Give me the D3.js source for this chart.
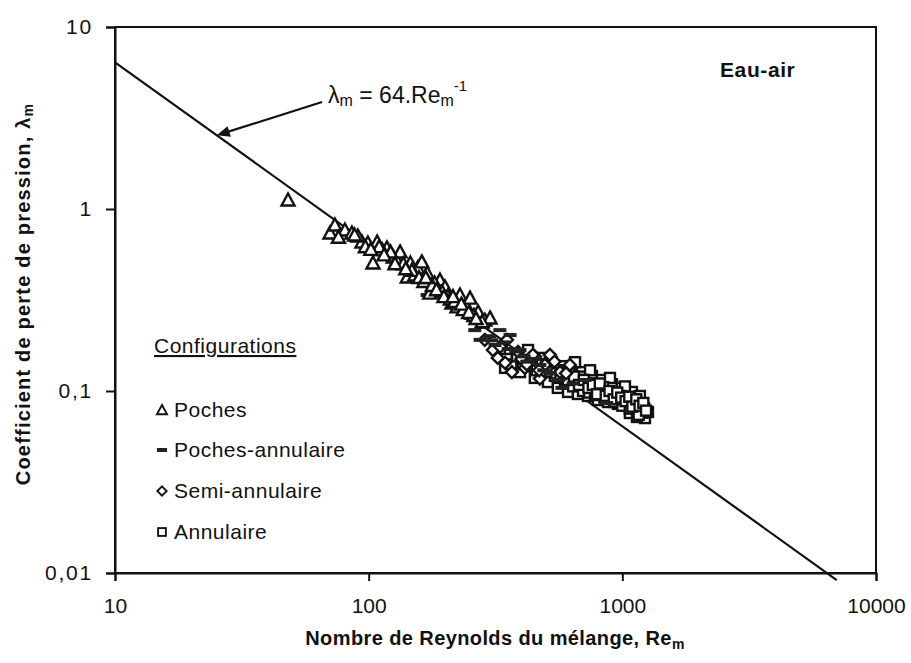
<!DOCTYPE html>
<html><head><meta charset="utf-8">
<script src="https://cdn.jsdelivr.net/npm/d3@7/dist/d3.min.js"></script>
<style>
body{margin:0;background:#fff;}
svg{display:block;font-family:"Liberation Sans",Arial,sans-serif;}
</style></head>
<body><svg id="c" width="911" height="663"></svg>
<script>
// ---- data ----
const xTicks = [10, 100, 1000, 10000];
const xTickLabels = ["10", "100", "1000", "10000"];
const yTicks = [0.01, 0.1, 1, 10];
const yTickLabels = ["0,01", "0,1", "1", "10"];
const seriesNames = ["Poches", "Poches-annulaire", "Semi-annulaire", "Annulaire"];

const pochesRe = [48.1,70.4,73.6,80.6,85.9,94.1,99.3,104,108,118,125,129,146,142,156,170,174,191,200,213,223,229,244,251,270,287,162,133,113,90.7,182,301,205,152,110,122,137,148,165,178,195,210,218,236,260,280,76,88,97,102,115,127,140,158,168,185,198,215,232,248,265];
const pochesL  = [1.12,0.738,0.817,0.767,0.738,0.659,0.650,0.505,0.659,0.611,0.545,0.525,0.505,0.423,0.474,0.445,0.345,0.407,0.373,0.304,0.290,0.337,0.290,0.324,0.272,0.245,0.512,0.581,0.596,0.711,0.392,0.252,0.333,0.434,0.62,0.58,0.50,0.46,0.40,0.38,0.35,0.32,0.31,0.28,0.26,0.24,0.70,0.72,0.62,0.60,0.56,0.50,0.47,0.42,0.42,0.36,0.33,0.33,0.30,0.27,0.25];

const pochesAnnRe = [170,179,235,251,262,295,275,315,361,395,473,578,712,869,329,300,282,340,380,420,450,520,640,305,355,410,490,560];
const pochesAnnL  = [0.337,0.345,0.316,0.252,0.216,0.239,0.191,0.179,0.203,0.168,0.139,0.104,0.115,0.0859,0.216,0.200,0.225,0.185,0.165,0.145,0.150,0.125,0.110,0.19,0.17,0.155,0.13,0.115];

const semiRe = [309,345,351,388,453,444,495,413,323,367,518,568,287,473,621,400,540,330,420,470,600];
const semiL  = [0.168,0.143,0.191,0.164,0.154,0.158,0.139,0.134,0.152,0.127,0.158,0.127,0.191,0.117,0.139,0.150,0.145,0.175,0.140,0.130,0.125];

const annRe = [329,345,377,395,425,432,452,473,495,509,528,542,557,578,594,611,633,651,668,693,712,732,759,780,801,831,854,878,910,935,961,996,1024,1052,1091,1121,1152,1173,1206,1228,1071,1142,1262,651,746,894,1024,620,700,760,840,920,980,1100,1180,540,480,680,820,950,1060,1130,1200,560,590,630,660,690,720,750,790,830,870,900,940,980,1010,1040,1080,1110,1150,1190,1220,600,640,700,740,780,850,930,1000,1070,1160,350,365,385,405,440,460,500,520,550,570,610,645,675,705,735,765,795,815,860,890,925,955,990,1030,1065,1095,1135,1170,1210,1240];
const annL  = [0.164,0.134,0.148,0.127,0.168,0.137,0.118,0.152,0.127,0.112,0.144,0.121,0.104,0.137,0.115,0.0988,0.130,0.109,0.0963,0.127,0.106,0.0939,0.121,0.104,0.0892,0.115,0.0988,0.0870,0.109,0.0951,0.0849,0.104,0.0915,0.0828,0.0988,0.0870,0.0786,0.0939,0.0817,0.0710,0.0757,0.0720,0.0767,0.144,0.130,0.118,0.106,0.125,0.115,0.110,0.105,0.098,0.094,0.090,0.085,0.130,0.140,0.120,0.100,0.090,0.088,0.082,0.076,0.130,0.122,0.118,0.115,0.112,0.110,0.105,0.100,0.097,0.095,0.092,0.090,0.088,0.085,0.086,0.083,0.084,0.080,0.078,0.080,0.110,0.106,0.100,0.098,0.095,0.092,0.087,0.083,0.080,0.074,0.150,0.140,0.155,0.140,0.145,0.130,0.140,0.128,0.125,0.120,0.115,0.120,0.108,0.115,0.104,0.108,0.096,0.110,0.094,0.100,0.090,0.098,0.092,0.088,0.093,0.082,0.090,0.083,0.086,0.078];

const lawCoef = 64;           // lambda_m = 64 / Re_m
const lawRange = [10, 7000];
const arrowTail = [65.5, 3.87];
const arrowTipRe = 25.2;

// ---- chart ----
const svg = d3.select("#c");
const L = 115, R = 876, T = 27, B = 573;
const x = d3.scaleLog().domain([10, 10000]).range([L, R]);
const y = d3.scaleLog().domain([0.01, 10]).range([B, T]);
const ink = "#111";

// frame
svg.append("rect").attr("x", L).attr("y", T).attr("width", R - L).attr("height", B - T)
  .attr("fill", "none").attr("stroke", ink).attr("stroke-width", 2);

const xAxis = d3.axisBottom(x).tickValues(xTicks).tickSize(8).tickPadding(17)
  .tickFormat((d, i) => xTickLabels[i]);
const gx = svg.append("g").attr("transform", `translate(0,${B})`).call(xAxis);
gx.select(".domain").attr("stroke", ink).attr("stroke-width", 2);
gx.selectAll(".tick line").attr("stroke", ink).attr("stroke-width", 2);
gx.selectAll(".tick text").attr("font-size", 21).attr("fill", ink)
  .attr("font-family", "'Liberation Sans Narrow','Liberation Sans',Arial,sans-serif");

const yAxis = d3.axisLeft(y).tickValues(yTicks).tickSize(9).tickPadding(13)
  .tickFormat((d, i) => yTickLabels[i]);
const gy = svg.append("g").attr("transform", `translate(${L},0)`).call(yAxis);
gy.select(".domain").attr("stroke", ink).attr("stroke-width", 2);
gy.selectAll(".tick line").attr("stroke", ink).attr("stroke-width", 2);
gy.selectAll(".tick text").attr("font-size", 21).attr("letter-spacing", 1.8).attr("fill", ink);

// law line
const lawPts = lawRange.map(r => [r, lawCoef / r]);
svg.append("path")
  .attr("d", d3.line().x(d => x(d[0])).y(d => y(d[1]))(lawPts))
  .attr("stroke", ink).attr("stroke-width", 2.2).attr("fill", "none");

// markers
function tri(g, cx, cy, s = 1) {
  g.append("path").attr("d", `M${cx},${cy - 6.5 * s}L${cx + 6.5 * s},${cy + 5.5 * s}L${cx - 6.5 * s},${cy + 5.5 * s}Z`)
    .attr("fill", "#fff").attr("stroke", ink).attr("stroke-width", 2.4 * s);
}
function diam(g, cx, cy, s = 1) {
  g.append("path").attr("d", `M${cx},${cy - 6 * s}L${cx + 6 * s},${cy}L${cx},${cy + 6 * s}L${cx - 6 * s},${cy}Z`)
    .attr("fill", "#fff").attr("stroke", ink).attr("stroke-width", 2.4 * s);
}
function sq(g, cx, cy, s = 1) {
  g.append("rect").attr("x", cx - 5 * s).attr("y", cy - 5 * s).attr("width", 10 * s).attr("height", 10 * s)
    .attr("fill", "#fff").attr("stroke", ink).attr("stroke-width", 2.4 * s);
}
function dash(g, cx, cy, s = 1) {
  g.append("rect").attr("x", cx - 6.5 * s).attr("y", cy - 2).attr("width", 13 * s).attr("height", 4)
    .attr("fill", "#222");
}
const gP = svg.append("g");
annRe.forEach((r, i) => sq(gP, x(r), y(annL[i])));
semiRe.forEach((r, i) => diam(gP, x(r), y(semiL[i])));
pochesAnnRe.forEach((r, i) => dash(gP, x(r), y(pochesAnnL[i])));
pochesRe.forEach((r, i) => tri(gP, x(r), y(pochesL[i])));

// annotation arrow
const tx = x(arrowTail[0]), ty = y(arrowTail[1]);
const hx = x(arrowTipRe), hy = y(lawCoef / arrowTipRe);
const ang = Math.atan2(hy - ty, hx - tx);
svg.append("line").attr("x1", tx).attr("y1", ty).attr("x2", hx - 8 * Math.cos(ang)).attr("y2", hy - 8 * Math.sin(ang))
  .attr("stroke", ink).attr("stroke-width", 2.2);
const ah = 13, aw = 5.5;
const p1 = [hx, hy];
const p2 = [hx - ah * Math.cos(ang) + aw * Math.sin(ang), hy - ah * Math.sin(ang) - aw * Math.cos(ang)];
const p3 = [hx - ah * Math.cos(ang) - aw * Math.sin(ang), hy - ah * Math.sin(ang) + aw * Math.cos(ang)];
svg.append("path").attr("d", `M${p1}L${p2}L${p3}Z`).attr("fill", ink);

const ann = svg.append("text").attr("x", tx + 6).attr("y", ty + 1).attr("font-size", 23).attr("fill", ink);
ann.append("tspan").text("λ");
ann.append("tspan").attr("font-size", 16).attr("dy", 3).text("m");
ann.append("tspan").attr("dy", -3).text(" = 64.Re");
ann.append("tspan").attr("font-size", 16).attr("dy", 3).text("m");
ann.append("tspan").attr("font-size", 15).attr("dy", -15).text("-1");

// Eau-air
svg.append("text").attr("x", 720).attr("y", 77).attr("font-size", 21).attr("font-weight", "bold")
  .attr("letter-spacing", 0.6).attr("fill", ink).text("Eau-air");

// legend
svg.append("text").attr("x", 154).attr("y", 353).attr("font-size", 21).attr("fill", ink)
  .attr("letter-spacing", 0.5).attr("text-decoration", "underline").text("Configurations");
const legY = [417, 457, 498, 539];
const drawers = [tri, dash, diam, sq];
seriesNames.forEach((n, i) => {
  drawers[i](svg, 162, legY[i] - 7, 0.78);
  svg.append("text").attr("x", 174).attr("y", legY[i]).attr("font-size", 21).attr("letter-spacing", 0.5)
    .attr("fill", ink).text(n);
});

// axis titles
const xt = svg.append("text").attr("x", 495).attr("y", 645).attr("text-anchor", "middle")
  .attr("font-size", 20).attr("font-weight", "bold").attr("letter-spacing", 0.4).attr("fill", ink);
xt.append("tspan").text("Nombre de Reynolds du mélange, Re");
xt.append("tspan").attr("font-size", 14).attr("dy", 4).text("m");

const yt = svg.append("text").attr("transform", "translate(30,294) rotate(-90)").attr("text-anchor", "middle")
  .attr("font-size", 20).attr("font-weight", "bold").attr("letter-spacing", 1.2).attr("fill", ink);
yt.append("tspan").text("Coefficient de perte de pression, λ");
yt.append("tspan").attr("font-size", 14).attr("dy", 3).text("m");
</script></body></html>
